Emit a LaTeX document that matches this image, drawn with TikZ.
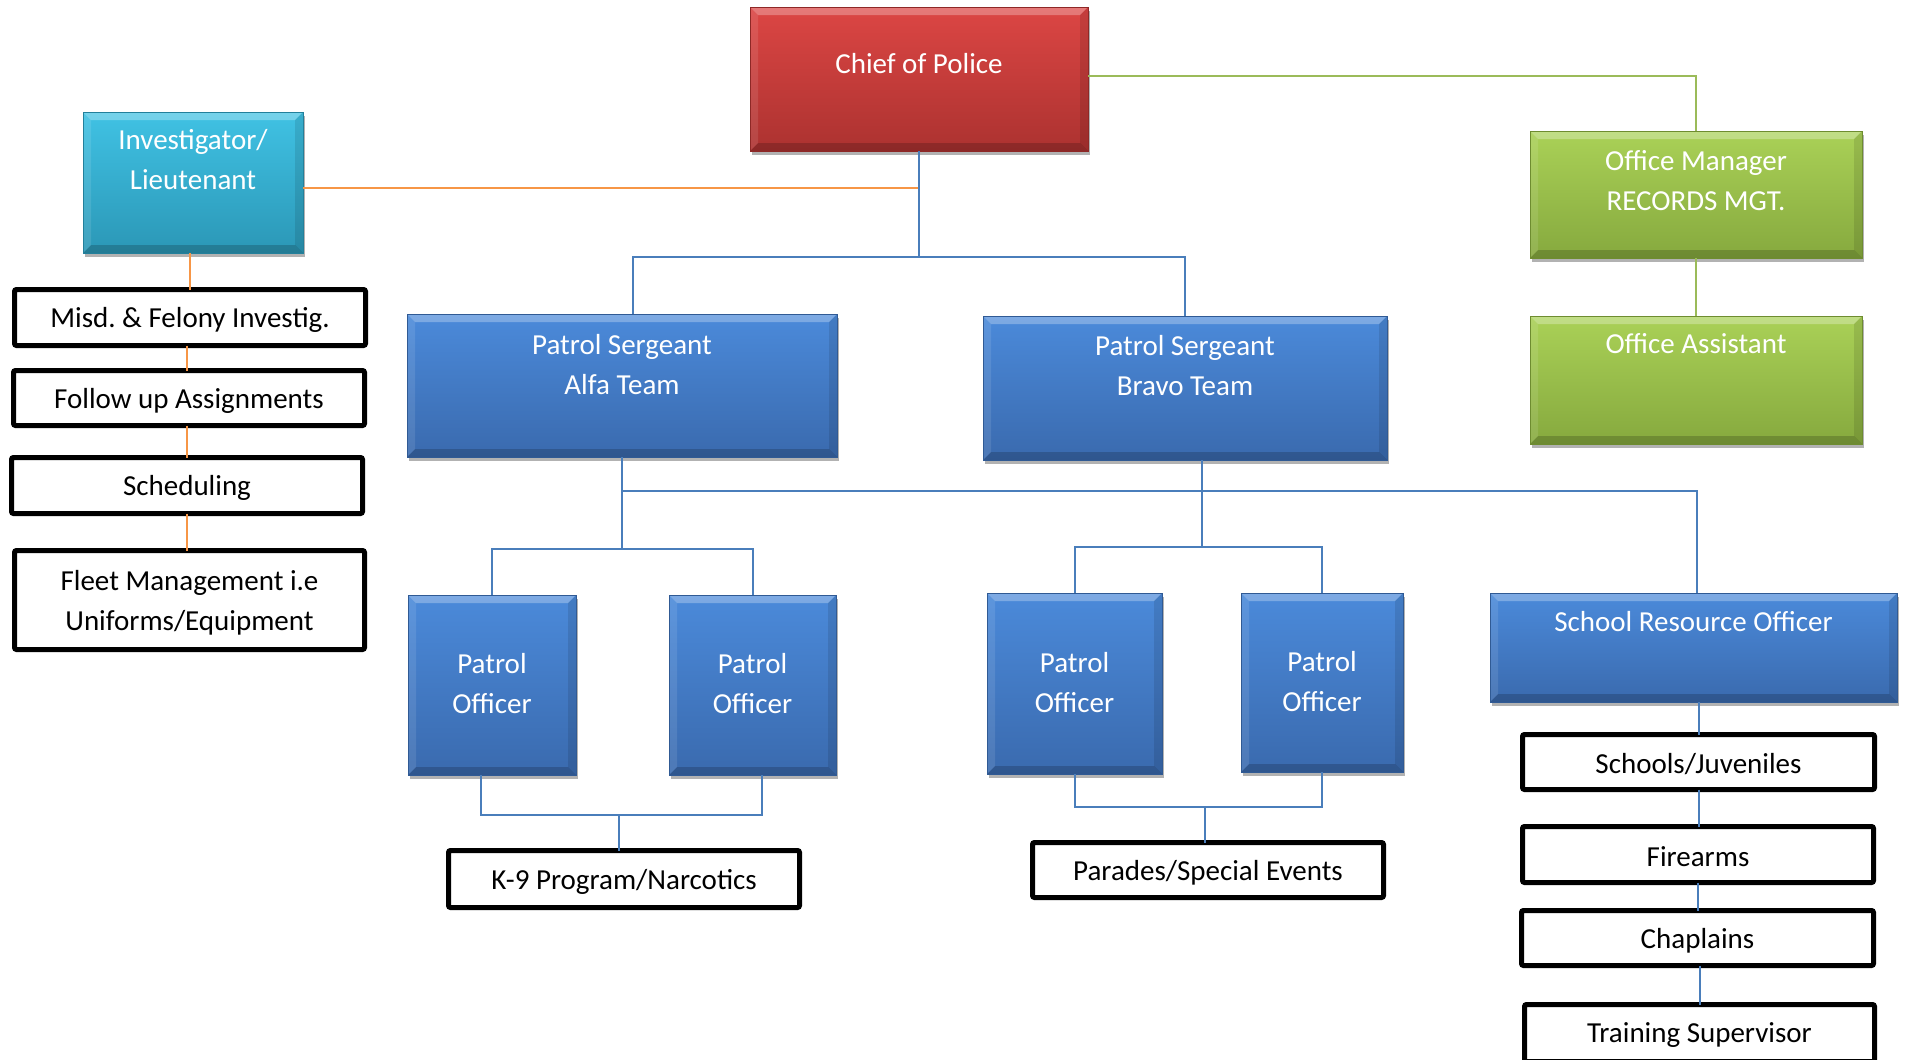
\documentclass[tikz,border=0pt]{standalone}
\usepackage{fontspec}
\setmainfont{Carlito}
\usetikzlibrary{shadows}
\frenchspacing
\definecolor{redT}{HTML}{DC4644}
\definecolor{redB}{HTML}{AC3230}
\definecolor{redD}{HTML}{8E2826}
\definecolor{teaT}{HTML}{40C2E4}
\definecolor{teaB}{HTML}{2B97B6}
\definecolor{teaD}{HTML}{23809B}
\definecolor{grnT}{HTML}{AAD157}
\definecolor{grnB}{HTML}{86A93E}
\definecolor{grnD}{HTML}{6E8C30}
\definecolor{bluT}{HTML}{4B8ADA}
\definecolor{bluB}{HTML}{3A6AAE}
\definecolor{bluD}{HTML}{305A94}
\definecolor{lnBlue}{HTML}{4A7EBB}
\definecolor{lnOr}{HTML}{F79646}
\definecolor{lnGr}{HTML}{9BBB59}
\begin{document}
\begin{tikzpicture}[x=1pt,y=-1pt,
  every node/.style={inner sep=0pt, outer sep=0pt},
  bevel/.style={path picture={
    \fill[white,opacity=.28] (path picture bounding box.north west) -- (path picture bounding box.north east) -- ([xshift=-8pt,yshift=-8pt]path picture bounding box.north east) -- ([xshift=8pt,yshift=-8pt]path picture bounding box.north west) -- cycle;
    \fill[black,opacity=.18] (path picture bounding box.south west) -- (path picture bounding box.south east) -- ([xshift=-8pt,yshift=8pt]path picture bounding box.south east) -- ([xshift=8pt,yshift=8pt]path picture bounding box.south west) -- cycle;
    \fill[white,opacity=.10] (path picture bounding box.north west) -- ([xshift=8pt,yshift=-8pt]path picture bounding box.north west) -- ([xshift=8pt,yshift=8pt]path picture bounding box.south west) -- (path picture bounding box.south west) -- cycle;
    \fill[black,opacity=.10] (path picture bounding box.north east) -- ([xshift=-8pt,yshift=-8pt]path picture bounding box.north east) -- ([xshift=-8pt,yshift=8pt]path picture bounding box.south east) -- (path picture bounding box.south east) -- cycle;
  }},
  cbox/.style={line width=0.8pt, bevel, drop shadow={shadow xshift=2pt,shadow yshift=-4pt,opacity=0.3,fill=black}},
  redbox/.style={cbox, draw=redD, top color=redT, bottom color=redB},
  teabox/.style={cbox, draw=teaD, top color=teaT, bottom color=teaB},
  grnbox/.style={cbox, draw=grnD, top color=grnT, bottom color=grnB},
  blubox/.style={cbox, draw=bluD, top color=bluT, bottom color=bluB},
  sz/.style 2 args={minimum width=#1pt, minimum height=#2pt},
  wlab/.style={text=white, font=\fontsize{29}{40}\selectfont, align=center, inner sep=0pt},
  klab/.style={text=black, font=\fontsize{29}{40}\selectfont, align=center, inner sep=0pt, yshift=-2.5pt},
  kbox/.style={draw=black, line width=5pt, fill=white, rounded corners=2pt},
  bl/.style={draw=lnBlue, line width=2pt},
  orl/.style={draw=lnOr, line width=2pt},
  grl/.style={draw=lnGr, line width=2pt}
]
\useasboundingbox (0,0) rectangle (1906,1060);

% coloured boxes
\node[redbox, sz={338}{144}, label={[wlab,yshift=15pt]center:Chief of Police}] (chief) at (919,79) {};
\node[teabox, sz={220}{141}, label={[wlab,yshift=22.5pt]center:{Investigator/\\Lieutenant}}] (inv) at (193,182.5) {};
\node[grnbox, sz={332}{127}, label={[wlab,yshift=14pt]center:{Office Manager\\RECORDS MGT.}}] (om) at (1696,194.5) {};
\node[grnbox, sz={332}{128}, label={[wlab,yshift=36pt]center:Office Assistant}] (oa) at (1696,380) {};
\node[blubox, sz={430}{143}, label={[wlab,yshift=21pt]center:{Patrol Sergeant\\Alfa Team}}] (alfa) at (622,385.5) {};
\node[blubox, sz={404}{144}, label={[wlab,yshift=22.5pt]center:{Patrol Sergeant\\Bravo Team}}] (bravo) at (1185,388) {};
\node[blubox, sz={168}{180}, label={[wlab,yshift=1pt]center:{Patrol\\Officer}}] (po1) at (492,685) {};
\node[blubox, sz={167}{180}, label={[wlab,yshift=1pt]center:{Patrol\\Officer}}] (po2) at (752.5,685) {};
\node[blubox, sz={175}{181}, label={[wlab,yshift=1pt]center:{Patrol\\Officer}}] (po3) at (1074.5,683.5) {};
\node[blubox, sz={162}{179}, label={[wlab,yshift=1pt]center:{Patrol\\Officer}}] (po4) at (1322,682.5) {};
\node[blubox, sz={407}{109}, label={[wlab,yshift=25.5pt]center:School Resource Officer}] (sro) at (1693.5,647.5) {};

% outlined boxes
\node[kbox, sz={351}{56}, label={[klab]center:Misd. \& Felony Investig.}] (misd) at (190,317.5) {};
\node[kbox, sz={351}{55}, label={[klab]center:Follow up Assignments}] (fol) at (189,398) {};
\node[kbox, sz={351}{56}, label={[klab]center:Scheduling}] (sched) at (187,485.5) {};
\node[kbox, sz={350}{99}, label={[klab]center:{Fleet Management i.e\\Uniforms/Equipment}}] (fleet) at (189.5,600) {};
\node[kbox, sz={351}{57}, label={[klab]center:K-9 Program/Narcotics}] (k9) at (624,879) {};
\node[kbox, sz={351}{55}, label={[klab]center:Parades/Special Events}] (par) at (1208,870) {};
\node[kbox, sz={352}{55}, label={[klab]center:Schools/Juveniles}] (sch) at (1698.5,762) {};
\node[kbox, sz={351}{56}, label={[klab]center:Firearms}] (fire) at (1698,854.5) {};
\node[kbox, sz={352}{55}, label={[klab]center:Chaplains}] (chap) at (1697.5,938) {};
\node[kbox, sz={350}{57}, label={[klab]center:Training Supervisor}] (train) at (1699.5,1033) {};

% connectors
\coordinate (hq) at (chief.south |- 0,257);
\draw[orl] (inv.east |- 0,188) -- (chief.south |- 0,188);
\draw[bl] (chief.south) -- (hq);
\draw[bl] ([xshift=11pt]alfa.north) |- (hq) -| (bravo.north);
\draw[grl] ([yshift=3pt]chief.east) -| (om.north);
\draw[grl] (om.south) -- (oa.north);

\coordinate (ja) at (alfa.south |- 0,549);
\draw[bl] (alfa.south) -- (ja);
\draw[bl] (po1.north) |- (ja) -| (po2.north);
\draw[bl] (alfa.south |- 0,491) -| ([xshift=3pt]sro.north);
\coordinate (jb) at ([xshift=17pt]bravo.south |- 0,547);
\draw[bl] ([xshift=17pt]bravo.south) -- (jb);
\draw[bl] (po3.north) |- (jb) -| (po4.north);

\coordinate (jk) at ([xshift=-5pt]k9.north |- 0,815);
\draw[bl] ([xshift=-11pt]po1.south) |- (jk) -| ([xshift=9pt]po2.south);
\draw[bl] ([xshift=-5pt]k9.north) -- (jk);
\coordinate (jp) at ([xshift=-3pt]par.north |- 0,807);
\draw[bl] (po3.south) |- (jp) -| (po4.south);
\draw[bl] ([xshift=-3pt]par.north) -- (jp);

\draw[bl] (sch.north |- sro.south) -- (sch.north);
\draw[bl] (sch.south) -- (sch.south |- fire.north);
\draw[bl] (fire.south) -- (fire.south |- chap.north);
\draw[bl] (train.north |- chap.south) -- (train.north);

\draw[orl] (misd.north |- inv.south) -- (misd.north);
\draw[orl] (sched.south |- misd.south) -- (sched.north |- fol.north);
\draw[orl] (sched.north |- fol.south) -- (sched.north);
\draw[orl] (sched.south) -- (sched.south |- fleet.north);
\end{tikzpicture}
\end{document}
